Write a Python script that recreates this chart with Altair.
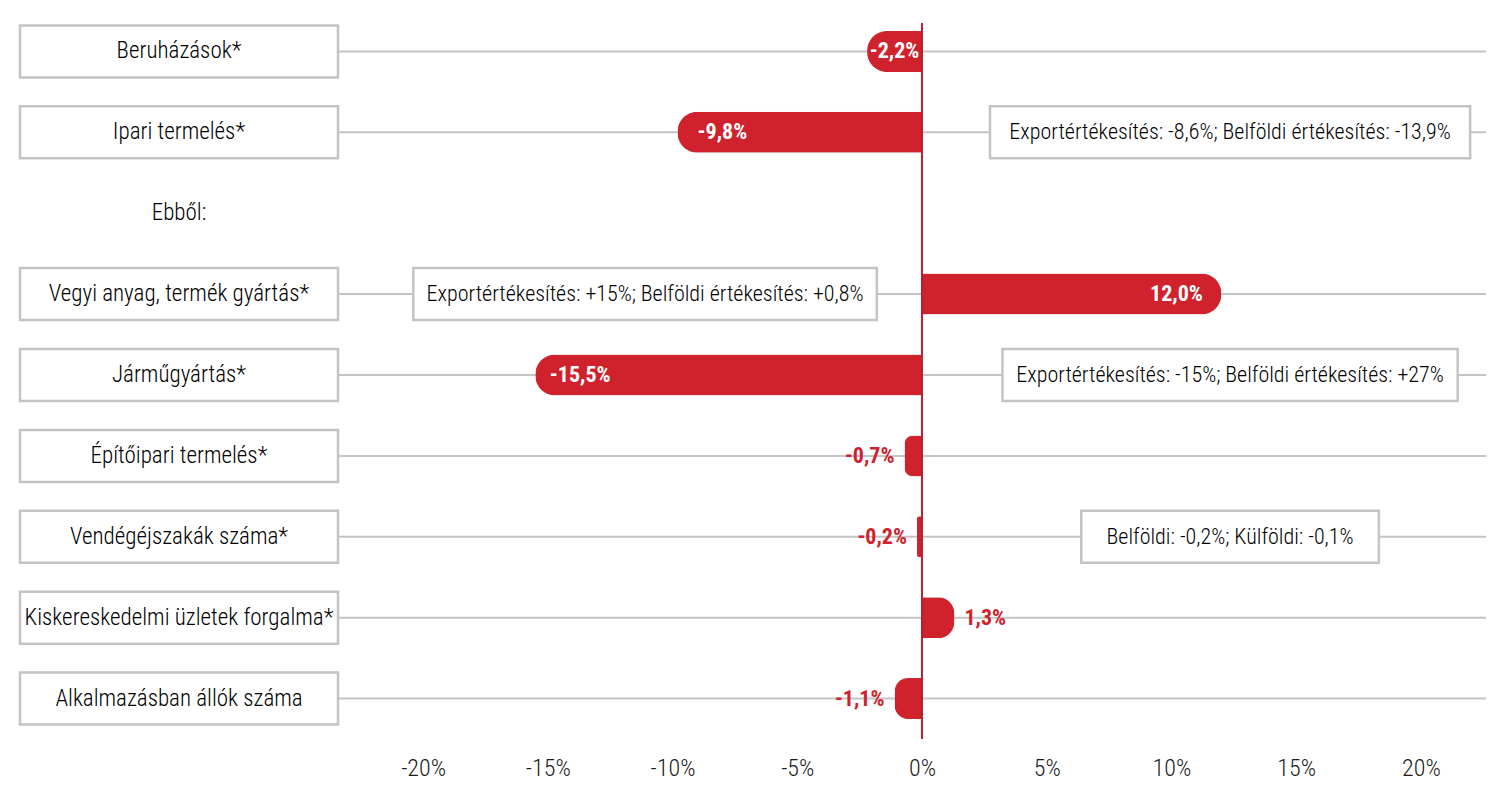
import altair as alt
import pandas as pd

categories = [
    "Beruházások*",
    "Ipari termelés*",
    "Ebből:",
    "Vegyi anyag, termék gyártás*",
    "Járműgyártás*",
    "Építőipari termelés*",
    "Vendégéjszakák száma*",
    "Kiskereskedelmi üzletek forgalma*",
    "Alkalmazásban állók száma",
]
values = [-2.2, -9.8, None, 12.0, -15.5, -0.7, -0.2, 1.3, -1.1]
notes = [
    "",
    "Exportértékesítés: -8,6%; Belföldi értékesítés: -13,9%",
    "",
    "Exportértékesítés: +15%; Belföldi értékesítés: +0,8%",
    "Exportértékesítés: -15%; Belföldi értékesítés: +27%",
    "",
    "Belföldi: -0,2%; Külföldi: -0,1%",
    "",
    "",
]
note_centers = [None, 12.35, None, -11.1, 12.35, None, 12.35, None, None]
tick_values = [-20, -15, -10, -5, 0, 5, 10, 15, 20]


def fmt(v):
    if v is None:
        return ""
    return f"{v:.1f}".replace(".", ",") + "%"


labels = [fmt(v) for v in values]

df = pd.DataFrame(
    {
        "cat": categories,
        "value": values,
        "label": labels,
        "note": notes,
        "nc": note_centers,
    }
)

FONT = "Roboto Condensed, DejaVu Sans Condensed, sans-serif"
RED = "#d0222c"
GRID = "#c4c4c4"
TXT = "#1a1a1a"
PX_PER_UNIT = 24.95

xscale = alt.Scale(domain=[-23.41, 22.61], range=[318, 1466], nice=False, zero=False)
xaxis = alt.Axis(
    values=tick_values,
    labelExpr="datum.value + '%'",
    title=None,
    domain=False,
    ticks=False,
    grid=False,
    labelFont=FONT,
    labelFontSize=24,
    labelFontWeight=300,
    labelColor="#1a1a1a",
    labelPadding=17,
)


def X(field):
    return alt.X(field, type="quantitative", scale=xscale, axis=xaxis)


Y = alt.Y(
    "cat:N",
    sort=categories,
    scale=alt.Scale(domain=categories, paddingInner=0, paddingOuter=0),
    axis=None,
)

base = alt.Chart(df)
valid = base.transform_filter("isValid(datum.value)")

grid = valid.mark_rule(color=GRID, strokeWidth=2).encode(
    x=alt.value(318), x2=alt.value(1466), y=Y
)

left_boxes = valid.mark_bar(
    fill="white", stroke=GRID, strokeWidth=2.5, size=52
).encode(x=alt.value(0), x2=alt.value(318), y=Y)

cat_text = base.mark_text(
    align="center", font=FONT, fontSize=23, fontWeight=300, color="#000000"
).encode(x=alt.value(159), y=Y, text="cat:N")

noted = base.transform_filter("datum.note != ''").transform_calculate(
    nl=f"datum.nc - (length(datum.note) * 8.3 + 32) / 2 / {PX_PER_UNIT}",
    nr=f"datum.nc + (length(datum.note) * 8.3 + 32) / 2 / {PX_PER_UNIT}",
)

note_boxes = noted.mark_bar(
    fill="white", stroke=GRID, strokeWidth=2.5, size=52
).encode(x=X("nl"), x2="nr:Q", y=Y)

note_text = noted.mark_text(
    align="center", font=FONT, fontSize=22, fontWeight=300, color="#000000"
).encode(x=X("nc"), y=Y, text="note:N")

neg_bars = base.transform_filter("isValid(datum.value) && datum.value < 0").mark_bar(
    color=RED, size=41, cornerRadiusTopLeft=20, cornerRadiusBottomLeft=20
).encode(x=X("value"), y=Y)

pos_bars = base.transform_filter("isValid(datum.value) && datum.value > 0").mark_bar(
    color=RED, size=41, cornerRadiusTopRight=20, cornerRadiusBottomRight=20
).encode(x=X("value"), y=Y)

zero_line = alt.Chart(pd.DataFrame({"z": [0]})).mark_rule(
    color="#b5232d", strokeWidth=2
).encode(x=X("z"), y=alt.value(12), y2=alt.value(728))

inside = base.transform_filter(
    "isValid(datum.value) && abs(datum.value) >= 2"
).transform_calculate(
    lx="(datum.value < 0 ? -1 : 1) * max(abs(datum.value) - 1.8, abs(datum.value) / 2)"
).mark_text(
    align="center", font=FONT, fontSize=22, fontWeight="bold", color="white"
).encode(x=X("lx"), y=Y, text="label:N")

out_neg = base.transform_filter(
    "isValid(datum.value) && abs(datum.value) < 2 && datum.value < 0"
).mark_text(
    align="right", dx=-10, font=FONT, fontSize=22, fontWeight="bold", color=RED
).encode(x=X("value"), y=Y, text="label:N")

out_pos = base.transform_filter(
    "isValid(datum.value) && abs(datum.value) < 2 && datum.value > 0"
).mark_text(
    align="left", dx=10, font=FONT, fontSize=22, fontWeight="bold", color=RED
).encode(x=X("value"), y=Y, text="label:N")

chart = (
    alt.layer(
        grid,
        left_boxes,
        cat_text,
        note_boxes,
        note_text,
        neg_bars,
        pos_bars,
        zero_line,
        inside,
        out_neg,
        out_pos,
    )
    .properties(
        width=1466,
        height=728,
        padding={"left": 12, "top": 3, "right": 5, "bottom": 50},
        autosize=alt.AutoSizeParams(type="none"),
        background="white",
    )
    .configure_view(stroke=None)
)

chart.save("out.html", embed_options={"renderer": "svg", "actions": False})
